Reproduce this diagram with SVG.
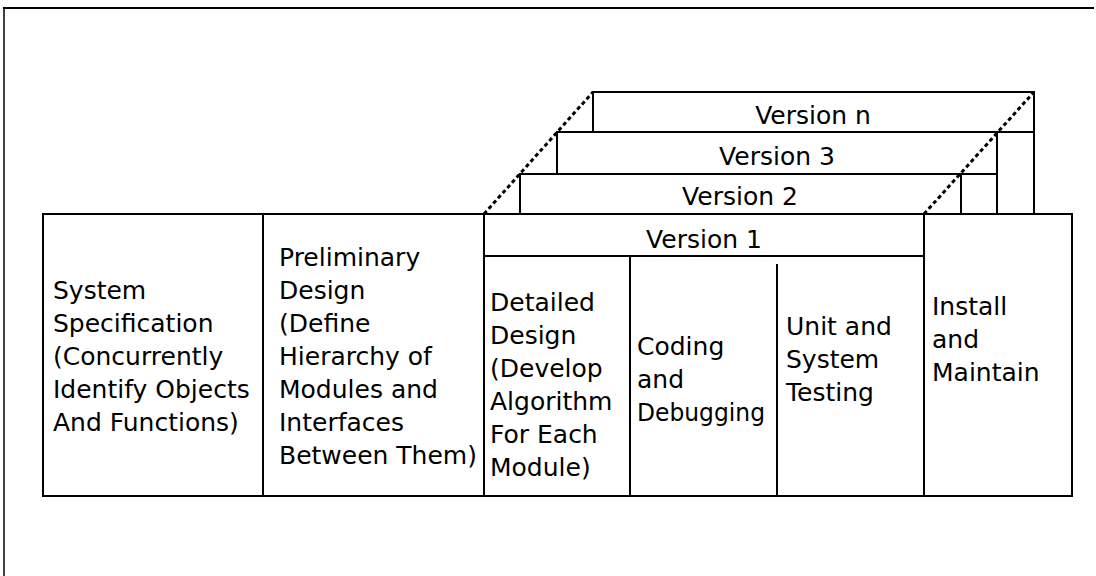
<svg xmlns="http://www.w3.org/2000/svg" width="1096" height="576" viewBox="0 0 1096 576">
<style>
.ln{stroke:#000;stroke-width:2;fill:none;stroke-linecap:square}
.dash{stroke:#000;stroke-width:3;fill:none;stroke-dasharray:4 3}
.frame{stroke:#000;fill:none}
text{font-family:"DejaVu Sans","Liberation Sans",sans-serif;font-size:25px;fill:#000}
.c{text-anchor:middle}
</style>
<rect width="1096" height="576" fill="#fff"/>
<g id="frame">
<line class="frame" x1="3" y1="8" x2="1094" y2="8" stroke-width="2"/>
<line class="frame" x1="4" y1="8" x2="4" y2="576" stroke-width="1.5"/>
</g>
<g id="connectors">
<line class="dash" x1="484" y1="214" x2="593" y2="92"/>
<line class="dash" x1="924" y1="214" x2="1034" y2="92"/>
</g>
<g id="version-n">
<path class="ln" d="M593,132 V92 H1034 V214"/>
<text class="c" x="813" y="124">Version n</text>
</g>
<g id="version-3">
<path class="ln" d="M557,174 V132 H1034 M997,132 V214"/>
<text class="c" x="777" y="165">Version 3</text>
</g>
<g id="version-2">
<path class="ln" d="M520,214 V174 H997 M961,174 V214"/>
<text class="c" x="740" y="205">Version 2</text>
</g>
<g id="table">
<rect class="ln" x="43" y="214" width="1029" height="282"/>
</g>
<g id="system-spec">
<line class="ln" x1="263" y1="214" x2="263" y2="496"/>
<text x="53" y="299">System</text>
<text x="53" y="332">Specification</text>
<text x="53" y="365">(Concurrently</text>
<text x="53" y="398">Identify Objects</text>
<text x="53" y="431">And Functions)</text>
</g>
<g id="preliminary-design">
<line class="ln" x1="484" y1="214" x2="484" y2="496"/>
<text x="279" y="266">Preliminary</text>
<text x="279" y="299">Design</text>
<text x="279" y="332">(Define</text>
<text x="279" y="365">Hierarchy of</text>
<text x="279" y="398">Modules and</text>
<text x="279" y="431">Interfaces</text>
<text x="279" y="464">Between Them)</text>
</g>
<g id="version-1">
<line class="ln" x1="484" y1="256" x2="924" y2="256"/>
<line class="ln" x1="924" y1="214" x2="924" y2="496"/>
<text class="c" x="704" y="248">Version 1</text>
</g>
<g id="detailed-design">
<text x="490" y="311">Detailed</text>
<text x="490" y="344">Design</text>
<text x="490" y="377">(Develop</text>
<text x="490" y="410">Algorithm</text>
<text x="490" y="443">For Each</text>
<text x="490" y="476">Module)</text>
</g>
<g id="coding">
<line class="ln" x1="630" y1="256" x2="630" y2="496"/>
<text x="637" y="355">Coding</text>
<text x="637" y="388">and</text>
<text x="637" y="421" textLength="128" lengthAdjust="spacingAndGlyphs">Debugging</text>
</g>
<g id="testing">
<line class="ln" x1="777" y1="265" x2="777" y2="496"/>
<text x="786" y="335">Unit and</text>
<text x="786" y="368">System</text>
<text x="786" y="401">Testing</text>
</g>
<g id="install">
<text x="932" y="315">Install</text>
<text x="932" y="348">and</text>
<text x="932" y="381">Maintain</text>
</g>
</svg>
